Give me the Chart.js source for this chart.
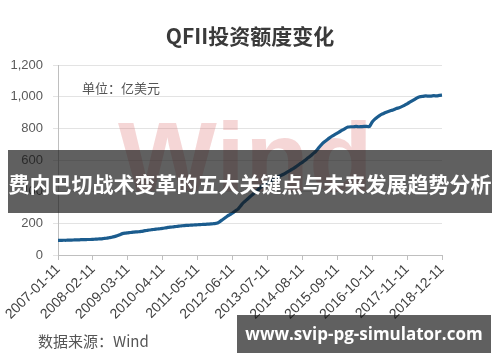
<!DOCTYPE html>
<html>
<head>
<meta charset="utf-8">
<script src="https://cdn.jsdelivr.net/npm/chart.js@4"></script>
<style>
  html, body { margin: 0; padding: 0; background: #fff; }
  #wrap { width: 500px; height: 362px; position: relative; }
</style>
</head>
<body>
<div id="wrap"><canvas id="quotaChart" width="500" height="362"></canvas></div>
<script>
const years = [2007, 2008, 2009, 2010, 2011, 2012, 2013, 2014, 2015, 2016, 2017, 2018];
const tickLabels = ["2007-01-11", "2008-02-11", "2009-03-11", "2010-04-11", "2011-05-11", "2012-06-11",
    "2013-07-11", "2014-08-11", "2015-09-11", "2016-10-11", "2017-11-11", "2018-12-11"];
// QFII quota, 亿美元, monthly
const quota = [
    92, 92, 93, 93, 94, 94, 95, 96, 96, 97, 97, 98,            // 2007
    98, 99, 100, 101, 102, 104, 106, 109, 112, 116, 121, 128,  // 2008
    135, 138, 140, 142, 144, 146, 147, 149, 152, 155, 158, 160, // 2009
    162, 164, 166, 168, 171, 174, 176, 178, 180, 182, 184, 186, // 2010
    187, 188, 189, 190, 191, 192, 193, 194, 195, 196, 198, 200, // 2011
    208, 220, 232, 245, 255, 265, 278, 290, 310, 330, 345, 360, // 2012
    375, 390, 405, 420, 435, 445, 455, 465, 475, 485, 495, 502, // 2013
    510, 520, 530, 540, 550, 562, 575, 585, 598, 612, 625, 640, // 2014
    655, 675, 695, 712, 725, 738, 750, 760, 770, 780, 790, 800, // 2015
    808, 810, 810, 812, 810, 811, 812, 812, 812, 840, 858, 872, // 2016
    884, 892, 900, 906, 912, 918, 925, 930, 937, 945, 955, 965, // 2017
    975, 985, 995, 1000, 1002, 1005, 1003, 1004, 1006, 1005, 1008, 1010 // 2018
];
const yTicks = [0, 200, 400, 600, 800, 1000, 1200];

const months = [];
years.forEach(y => {
    for (let m = 1; m <= 12; m++) months.push(y + "-" + String(m).padStart(2, "0") + "-11");
});

const cjk = '"Noto Sans CJK SC", "Noto Sans", sans-serif';

// watermark behind the line, overlays on top
const decor = {
    id: "decor",
    beforeDatasetsDraw(chart) {
        const ctx = chart.ctx;
        ctx.save();
        ctx.font = "bold 98px 'Liberation Sans', Arial, sans-serif";
        ctx.fillStyle = "rgba(222, 120, 120, 0.3)";
        ctx.textBaseline = "alphabetic";
        const w = ctx.measureText("Wind").width;
        ctx.translate(118, 191);
        ctx.scale(255 / w, 1);
        ctx.fillText("Wind", 0, 0);
        ctx.restore();
    },
    afterDraw(chart) {
        const ctx = chart.ctx;
        ctx.save();
        ctx.fillStyle = "#3a3a3a";
        ctx.font = "bold 21px " + cjk;
        ctx.textAlign = "center";
        ctx.textBaseline = "middle";
        ctx.fillText("QFII投资额度变化", 250, 36);

        ctx.textAlign = "left";
        ctx.fillStyle = "#555";
        ctx.font = "13px " + cjk;
        ctx.fillText("单位：亿美元", 82, 88);
        ctx.font = "15px " + cjk;
        ctx.fillText("数据来源：Wind", 38, 341);

        // banner
        ctx.fillStyle = "rgba(20, 20, 20, 0.68)";
        ctx.fillRect(8, 150, 484, 63);
        ctx.fillStyle = "#fff";
        ctx.font = "bold 21px " + cjk;
        ctx.textAlign = "center";
        ctx.fillText("费内巴切战术变革的五大关键点与未来发展趋势分析", 250, 184);

        // site box
        ctx.fillStyle = "rgba(20, 20, 20, 0.68)";
        ctx.fillRect(237, 315, 254, 38);
        ctx.fillStyle = "#fff";
        ctx.font = "bold 17px 'Open Sans', 'Noto Sans', sans-serif";
        ctx.fillText("www.svip-pg-simulator.com", 364, 335);
        ctx.restore();
    }
};

new Chart(document.getElementById("quotaChart").getContext("2d"), {
    type: "line",
    data: {
        labels: months,
        datasets: [{
            data: quota,
            borderColor: "#1b5c8e",
            borderWidth: 3.2,
            pointRadius: 0,
            tension: 0.2,
            fill: false
        }]
    },
    options: {
        responsive: false,
        animation: false,
        layout: { padding: { top: 65, left: 0, right: 58, bottom: 0 } },
        plugins: { legend: { display: false }, tooltip: { enabled: false } },
        scales: {
            x: {
                afterFit(scale) { scale.height = 107; },
                grid: { drawOnChartArea: false, color: "#bfbfbf", tickLength: 5 },
                border: { color: "#bfbfbf" },
                ticks: {
                    autoSkip: false,
                    maxRotation: 45,
                    minRotation: 45,
                    padding: 1,
                    color: "#404040",
                    font: { size: 14, family: "'Liberation Sans', Arial, sans-serif" },
                    callback(val, i) {
                        const lbl = months[i];
                        return tickLabels.includes(lbl) ? lbl : null;
                    }
                }
            },
            y: {
                min: 0,
                max: 1200,
                afterFit(scale) { scale.width = 58; },
                afterBuildTicks(scale) { scale.ticks = yTicks.map(v => ({ value: v })); },
                grid: { color: "#e3e3e3", tickLength: 5 },
                border: { color: "#bfbfbf" },
                ticks: {
                    padding: 10,
                    color: "#595959",
                    font: { size: 13, family: "'Liberation Sans', Arial, sans-serif" },
                    callback: v => v.toLocaleString("en-US")
                }
            }
        }
    },
    plugins: [decor]
});
</script>
</body>
</html>
